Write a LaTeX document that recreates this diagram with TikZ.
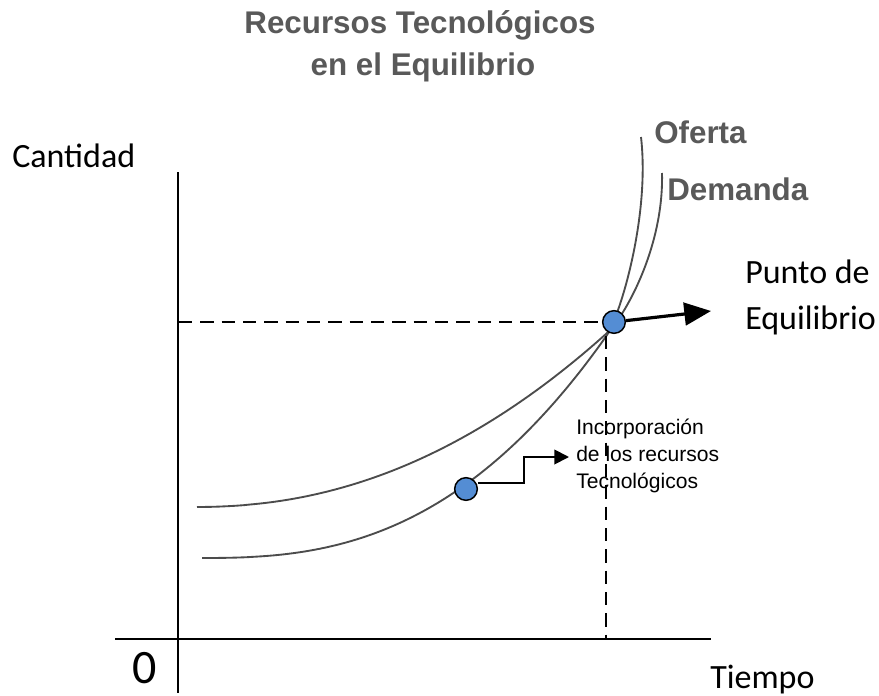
\documentclass[tikz,border=0pt]{standalone}
\usepackage{fontspec}
\setmainfont{Liberation Sans}
\newfontfamily\calibri{Carlito}
\usetikzlibrary{positioning}
\usetikzlibrary{arrows.meta, positioning}
\definecolor{dotblue}{RGB}{84,141,212}
\definecolor{titlegray}{RGB}{89,89,89}
\tikzstyle{arrow} = [line width=1.4pt, -{Triangle[length=11pt, width=11pt]}]

\begin{document}
\begin{tikzpicture}[
  x=0.75pt, y=-0.75pt,
  dot/.style={circle, draw=black, fill=dotblue, line width=1.1pt, minimum size=17pt, inner sep=0pt},
  curve/.style={line width=1.4pt, black!70},
  axis/.style={line width=1.2pt, black},
  guide/.style={line width=1.5pt, dash pattern=on 10pt off 6pt},
  heading/.style={font=\fontsize{23.5}{28}\selectfont\bfseries, text=titlegray, inner sep=0pt},
  axislabel/.style={font=\calibri\fontsize{25.5}{30}\selectfont, inner sep=0pt, anchor=base west}
]
\useasboundingbox (0,0) rectangle (879,696);

\node[heading, anchor=base] (title1) at (420,33) {Recursos Tecnológicos};
\node[heading, anchor=base] (title2) at (423,75) {en el Equilibrio};

% axes
\coordinate (ytop) at (178,172);
\coordinate (ybot) at (178,693);
\coordinate (xleft) at (115,639);
\coordinate (xright) at (711,639);
\draw[axis] (ytop) -- (ybot);
\draw[axis] (xleft) -- (xright);

\node[axislabel] (cantidad) at (12,167) {Cantidad};
\node[axislabel] (tiempo) at (710,688) {Tiempo};
\node[axislabel, font=\calibri\fontsize{36}{40}\selectfont] (cero) at (132,683) {0};

% curves
\draw[curve] plot[domain=202:607, samples=80] (\x, {558-223*((\x-200)/407)^2.6})
  .. controls (621,313) and (650,215) .. (641,137);
\draw[curve] plot[domain=197:607, samples=80] (\x, {507-174*((\x-195)/412)^2.13})
  .. controls (622,320) and (664,250) .. (662,173);

\node[heading, anchor=base west] (oferta) at (654,143) {Oferta};
\node[heading, anchor=base west] (demanda) at (667,200) {Demanda};

% equilibrium
\coordinate (yeq) at (179,322);
\coordinate (xeqtop) at (606,336);
\coordinate (xeqbot) at (606,639);
\draw[guide] (yeq) -- (605,322);
\draw[guide] (xeqtop) -- (xeqbot);
\node[dot] (eq) at (614,322) {};
\coordinate (eqtip) at (711,311);
\draw[line width=2.4pt, -{Triangle[length=20pt, width=17pt]}] (eq) -- (eqtip);

\node[axislabel] (punto) at (745,283) {Punto de};
\node[axislabel] (equilibrio) at (745,329) {Equilibrio};

% incorporation
\node[dot] (inc) at (466,489) {};
\node[align=left, anchor=north west, inner sep=0pt, font=\fontsize{15.8}{20.25}\selectfont] (inctext) at (576,419) {Incorporación\\de los recursos\\Tecnológicos};
\coordinate (inctip) at (569,457);
\draw[arrow] ([yshift=4.5pt]inc.east) -- ++(46,0) |- (inctip);

\end{tikzpicture}
\end{document}
